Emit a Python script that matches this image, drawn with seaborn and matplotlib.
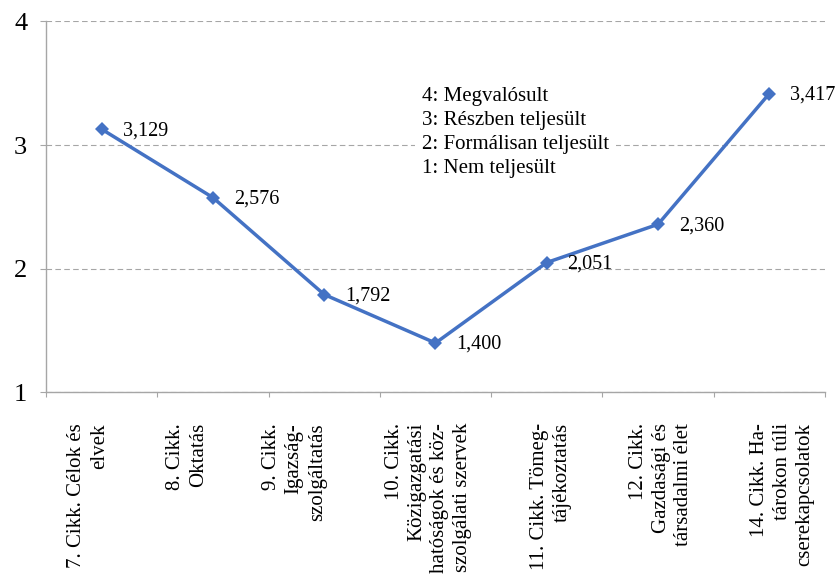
import numpy as np
import pandas as pd
import matplotlib
matplotlib.use("Agg")
import matplotlib.pyplot as plt
import seaborn as sns
from matplotlib.transforms import ScaledTranslation
from matplotlib.patches import Rectangle

# ---- data ----
categories = [
    "7. Cikk. Célok és\nelvek",
    "8. Cikk.\nOktatás",
    "9. Cikk.\nIgazság-\nszolgáltatás",
    "10. Cikk.\nKözigazgatási\nhatóságok és köz-\nszolgálati szervek",
    "11. Cikk. Tömeg-\ntájékoztatás",
    "12. Cikk.\nGazdasági és\ntársadalmi élet",
    "14. Cikk. Ha-\ntárokon túli\ncserekapcsolatok",
]
values = [3.129, 2.576, 1.792, 1.400, 2.051, 2.360, 3.417]
y_ticks = [1, 2, 3, 4]
legend_lines = [
    "4: Megvalósult",
    "3: Részben teljesült",
    "2: Formálisan teljesült",
    "1: Nem teljesült",
]

# ---- layout / style ----
label_dx_px = [-14, -26, -30, -7, 4, 3, 13]
line_color = "#4472C4"
grid_color = "#A6A6A6"

sns.set_theme(style="white")
plt.rcParams["font.family"] = ["Liberation Serif", "DejaVu Serif"]

df = pd.DataFrame({"pos": np.arange(len(categories)), "value": values})

fig = plt.figure(figsize=(8.4, 5.76), dpi=100)
ax = fig.add_axes([0.0548, 0.3186, 0.9273, 0.6441])

ax.set_axisbelow(True)
ax.yaxis.grid(True, linestyle=(0, (5, 3)), color=grid_color, linewidth=0.8)
ax.xaxis.grid(False)

sns.lineplot(data=df, x="pos", y="value", ax=ax, sort=False, color=line_color,
             linewidth=2.5, marker="D", markersize=7.5, markeredgewidth=0,
             zorder=3)

ax.set_xlim(-0.5, len(categories) - 0.5)
ax.set_ylim(1, 4)
ax.set_yticks(y_ticks)
ax.set_yticklabels([str(t) for t in y_ticks], fontsize=19)
ax.set_xlabel("")
ax.set_ylabel("")

for s in ["top", "right"]:
    ax.spines[s].set_visible(False)
for s in ["left", "bottom"]:
    ax.spines[s].set_color(grid_color)
    ax.spines[s].set_linewidth(1.0)

ax.tick_params(axis="y", which="major", left=True, length=4.5, width=0.8,
               color=grid_color, direction="out", pad=9, labelcolor="black")

ax.set_xticks(np.arange(len(categories)))
ax.set_xticklabels(categories, rotation=90, fontsize=15, ha="center",
                   va="top", ma="right", linespacing=1.28, color="black")
ax.set_xticks(np.arange(-0.5, len(categories)), minor=True)
ax.tick_params(axis="x", which="major", length=0, pad=22)
ax.tick_params(axis="x", which="minor", bottom=True, length=3.6, width=0.8,
               color=grid_color, direction="out")

for lbl, dx in zip(ax.get_xticklabels(), label_dx_px):
    lbl.set_transform(lbl.get_transform() +
                      ScaledTranslation(dx / 100.0, 0, fig.dpi_scale_trans))

# data labels
for i, v in enumerate(values):
    ax.annotate(f"{v:.3f}".replace(".", ","), (i, v), xytext=(15, -1),
                textcoords="offset points", ha="left", va="center",
                fontsize=14.5, color="black", zorder=4)

# scale explanation box
ax.add_patch(Rectangle((0.4737, 0.573), 0.258, 0.256, transform=ax.transAxes,
                       facecolor="white", edgecolor="none", zorder=1))
for j, txt in enumerate(legend_lines):
    ax.text(0.4827, 0.7965 - j * 0.0647, txt, transform=ax.transAxes,
            ha="left", va="center", fontsize=15, color="black", zorder=4)

fig.savefig("out.png", dpi=100)
